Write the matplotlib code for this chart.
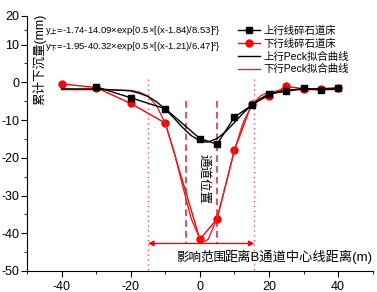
import matplotlib
matplotlib.use('Agg')
import matplotlib.pyplot as plt
from matplotlib.ticker import MultipleLocator, FixedLocator
import numpy as np

plt.rcParams['font.family'] = ['Liberation Sans', 'Noto Sans CJK SC', 'DejaVu Sans']
plt.rcParams['axes.unicode_minus'] = False
plt.rcParams['mathtext.fontset'] = 'custom'
plt.rcParams['mathtext.rm'] = 'Noto Sans CJK SC'
plt.rcParams['mathtext.it'] = 'Noto Sans CJK SC'

# measured data
x_up = [-30, -20, -10, 0, 5, 10, 15, 20, 25, 30, 35, 40]
y_up = [-1.2, -4.1, -7.0, -14.9, -16.4, -9.2, -6.1, -3.0, -2.4, -1.6, -2.0, -1.6]
x_down = [-40, -30, -20, -10, 0, 5, 10, 15, 20, 25, 30, 35, 40]
y_down = [-0.4, -1.4, -5.6, -10.8, -41.6, -36.2, -18.0, -5.7, -3.6, -1.1, -1.7, -1.7, -1.4]

# Peck fit curves
x_fit = [-40, -30, -20, -17.5, -15, -12.5, -10, -7.5, -5, -2.5, 0, 1.5, 2.5, 5, 7.5,
         10, 12.5, 15, 17.5, 20, 25, 30, 40]
y_fit_up = [-1.74, -1.76, -2.27, -2.9, -3.75, -5.17, -7.12, -9.47, -11.95, -14.12, -15.50,
            -15.82, -15.79, -14.90, -13.04, -10.66, -8.19, -6.02, -4.35, -3.20, -2.09, -1.80, -1.74]
y_fit_down = [-1.95, -1.95, -2.14, -2.6, -3.70, -6.22, -10.94, -18.24, -27.39, -36.17, -41.50,
              -42.2, -41.48, -35.90, -27.07, -17.96, -10.74, -6.10, -3.64, -2.54, -2.0, -1.95, -1.95]

y_ticks = [-50, -40, -30, -20, -10, 0, 10, 20]
y_labels = ['-50', '-40', '-30', '-20', '-10', '0', '10', '20']


# the axis above 10 is drawn compressed in the original
def fwd(y):
    y = np.asarray(y, dtype=float)
    return np.where(y > 10, 10 + (y - 10) * 0.763, y)


def inv(y):
    y = np.asarray(y, dtype=float)
    return np.where(y > 10, 10 + (y - 10) / 0.763, y)


fig = plt.figure(figsize=(3.77, 2.92), dpi=100)
ax = fig.add_axes([0.0716, 0.0720, 0.917, 0.874])
ax.set_yscale('function', functions=(fwd, inv))

ax.plot(x_up, y_up, color='black', marker='s', markersize=4.5, lw=1, label='上行线碎石道床', zorder=4)
ax.plot(x_down, y_down, color='red', marker='o', markersize=5, lw=1, label='下行线碎石道床', zorder=3)
ax.plot(x_fit, y_fit_up, color='black', lw=1, label='上行Peck拟合曲线', zorder=4)
ax.plot(x_fit, y_fit_down, color='#d42a2a', lw=1, label='下行Peck拟合曲线', zorder=3)

# influence range and tunnel position
for xv in [-15, 15.8]:
    ax.plot([xv, xv], [1, -50], color='#e05070', ls=(0, (1, 2.5)), lw=1)
for xv in [-3.9, 4.9]:
    ax.plot([xv, xv], [-5, -42.5], color='#e03050', ls=(0, (4, 2.5)), lw=1.2)
ax.annotate('', xy=(-15, -42.7), xytext=(15.8, -42.7),
            arrowprops=dict(arrowstyle='<|-|>', color='red', lw=1, mutation_scale=8, shrinkA=0, shrinkB=0))

ax.text(1.0, -25.5, '通道位置', rotation=-90, ha='center', va='center', fontsize=9)
ax.text(-6.9, -46.4, '影响范围', ha='left', va='center', fontsize=9)
ax.text(50, -46.4, '距离B通道中心线距离(m)', ha='right', va='center', fontsize=9.5)
ax.text(-46.5, 6.0, '累计下沉量(mm)', rotation=90, ha='center', va='center', fontsize=9)

ax.text(-44.8, 15.0, 'y$_{上}$=-1.74-14.09×exp{0.5×[(x-1.84)/8.53]²}', fontsize=6.8, va='center')
ax.text(-44.8, 9.3, 'y$_{下}$=-1.95-40.32×exp{0.5×[(x-1.21)/6.47]²}', fontsize=6.8, va='center')

ax.set_xlim(-50, 50)
ax.set_ylim(-50, 20)
ax.xaxis.set_major_locator(MultipleLocator(20))
ax.xaxis.set_minor_locator(MultipleLocator(10))
ax.set_yticks(y_ticks, labels=y_labels)
ax.yaxis.set_minor_locator(FixedLocator([-45, -35, -25, -15, -5, 5, 15]))
ax.tick_params(which='major', length=4, labelsize=9, pad=1.5)
ax.tick_params(axis='x', pad=3)
ax.tick_params(which='minor', length=2.5)
ax.spines['top'].set_visible(False)
ax.spines['right'].set_visible(False)

ax.legend(loc='upper left', bbox_to_anchor=(0.585, 0.995), frameon=False, fontsize=7.5,
          handlelength=2.2, labelspacing=0.25, borderpad=0.3, handletextpad=0.3)

fig.savefig('out.png', dpi=100)
